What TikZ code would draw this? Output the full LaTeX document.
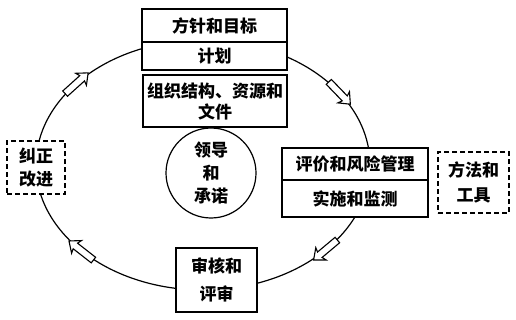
\documentclass[tikz,border=0pt]{standalone}
\usepackage{fontspec}
\setmainfont{Noto Sans CJK SC}
\usetikzlibrary{positioning, shapes.arrows}

\begin{document}
\begin{tikzpicture}[
  x=1pt, y=1pt,
  font=\fontsize{17}{22}\selectfont\bfseries,
  stage/.style={draw, fill=white, line width=1.3pt, inner sep=0pt, outer sep=0pt, align=center},
  aid/.style={draw, fill=white, dash pattern=on 5pt off 3pt, line width=1.3pt, inner sep=0pt,
              outer sep=0pt, align=center},
  core/.style={draw, circle, fill=white, line width=1.2pt, inner sep=0pt, minimum size=90pt, align=center},
  flow/.style={single arrow, draw, fill=white, line width=1.1pt, minimum height=31pt, minimum width=15pt,
               inner sep=3pt, single arrow head extend=4.5pt, single arrow tip angle=80,
               single arrow head indent=1.5pt},
  cycle/.style={line width=1.2pt}
]
\useasboundingbox (0,0) rectangle (516,319);

% the management cycle
\coordinate (ctr) at (203,154);
\draw[cycle] (ctr) ellipse [x radius=167, y radius=125];

\node[stage, minimum width=145pt, minimum height=33pt] (policy) at (214.5,293.5) {方针和目标};
\node[stage, minimum width=145pt, minimum height=28pt, below=0pt of policy] (plan) {计划};
\node[stage, minimum width=144pt, minimum height=52pt, font=\fontsize{17}{21}\selectfont\bfseries]
  (org) at (215,218) {组织结构、资源和\\文件};
\node[core, font=\fontsize{17}{23}\selectfont\bfseries] (lead) at (211,146) {领导\\和\\承诺};

\node[stage, minimum width=146pt, minimum height=32pt] (risk) at (355,155) {评价和风险管理};
\node[stage, minimum width=146pt, minimum height=37pt, below=0pt of risk] (check) {实施和监测};
\node[aid, minimum width=71pt, minimum height=61pt, font=\fontsize{17}{25}\selectfont\bfseries]
  (tools) at (473.5,136.5) {方法和\\工具};

\node[stage, minimum width=81pt, minimum height=64pt, font=\fontsize{17}{28}\selectfont\bfseries]
  (audit) at (216.5,39) {审核和\\评审};
\node[aid, minimum width=58pt, minimum height=53pt, font=\fontsize{17}{23}\selectfont\bfseries]
  (improve) at (36,151.5) {纠正\\改进};

% direction marks on the cycle
\path (ctr) ++(140:167 and 125) node[flow, rotate=42] (toplan) {};
\path (ctr) ++(36:167 and 125) node[flow, rotate=-46] (torisk) {};
\path (ctr) ++(-42:167 and 125) node[flow, rotate=220] (toaudit) {};
\path (ctr) ++(-136:167 and 125) node[flow, rotate=142] (toimprove) {};
\end{tikzpicture}
\end{document}
